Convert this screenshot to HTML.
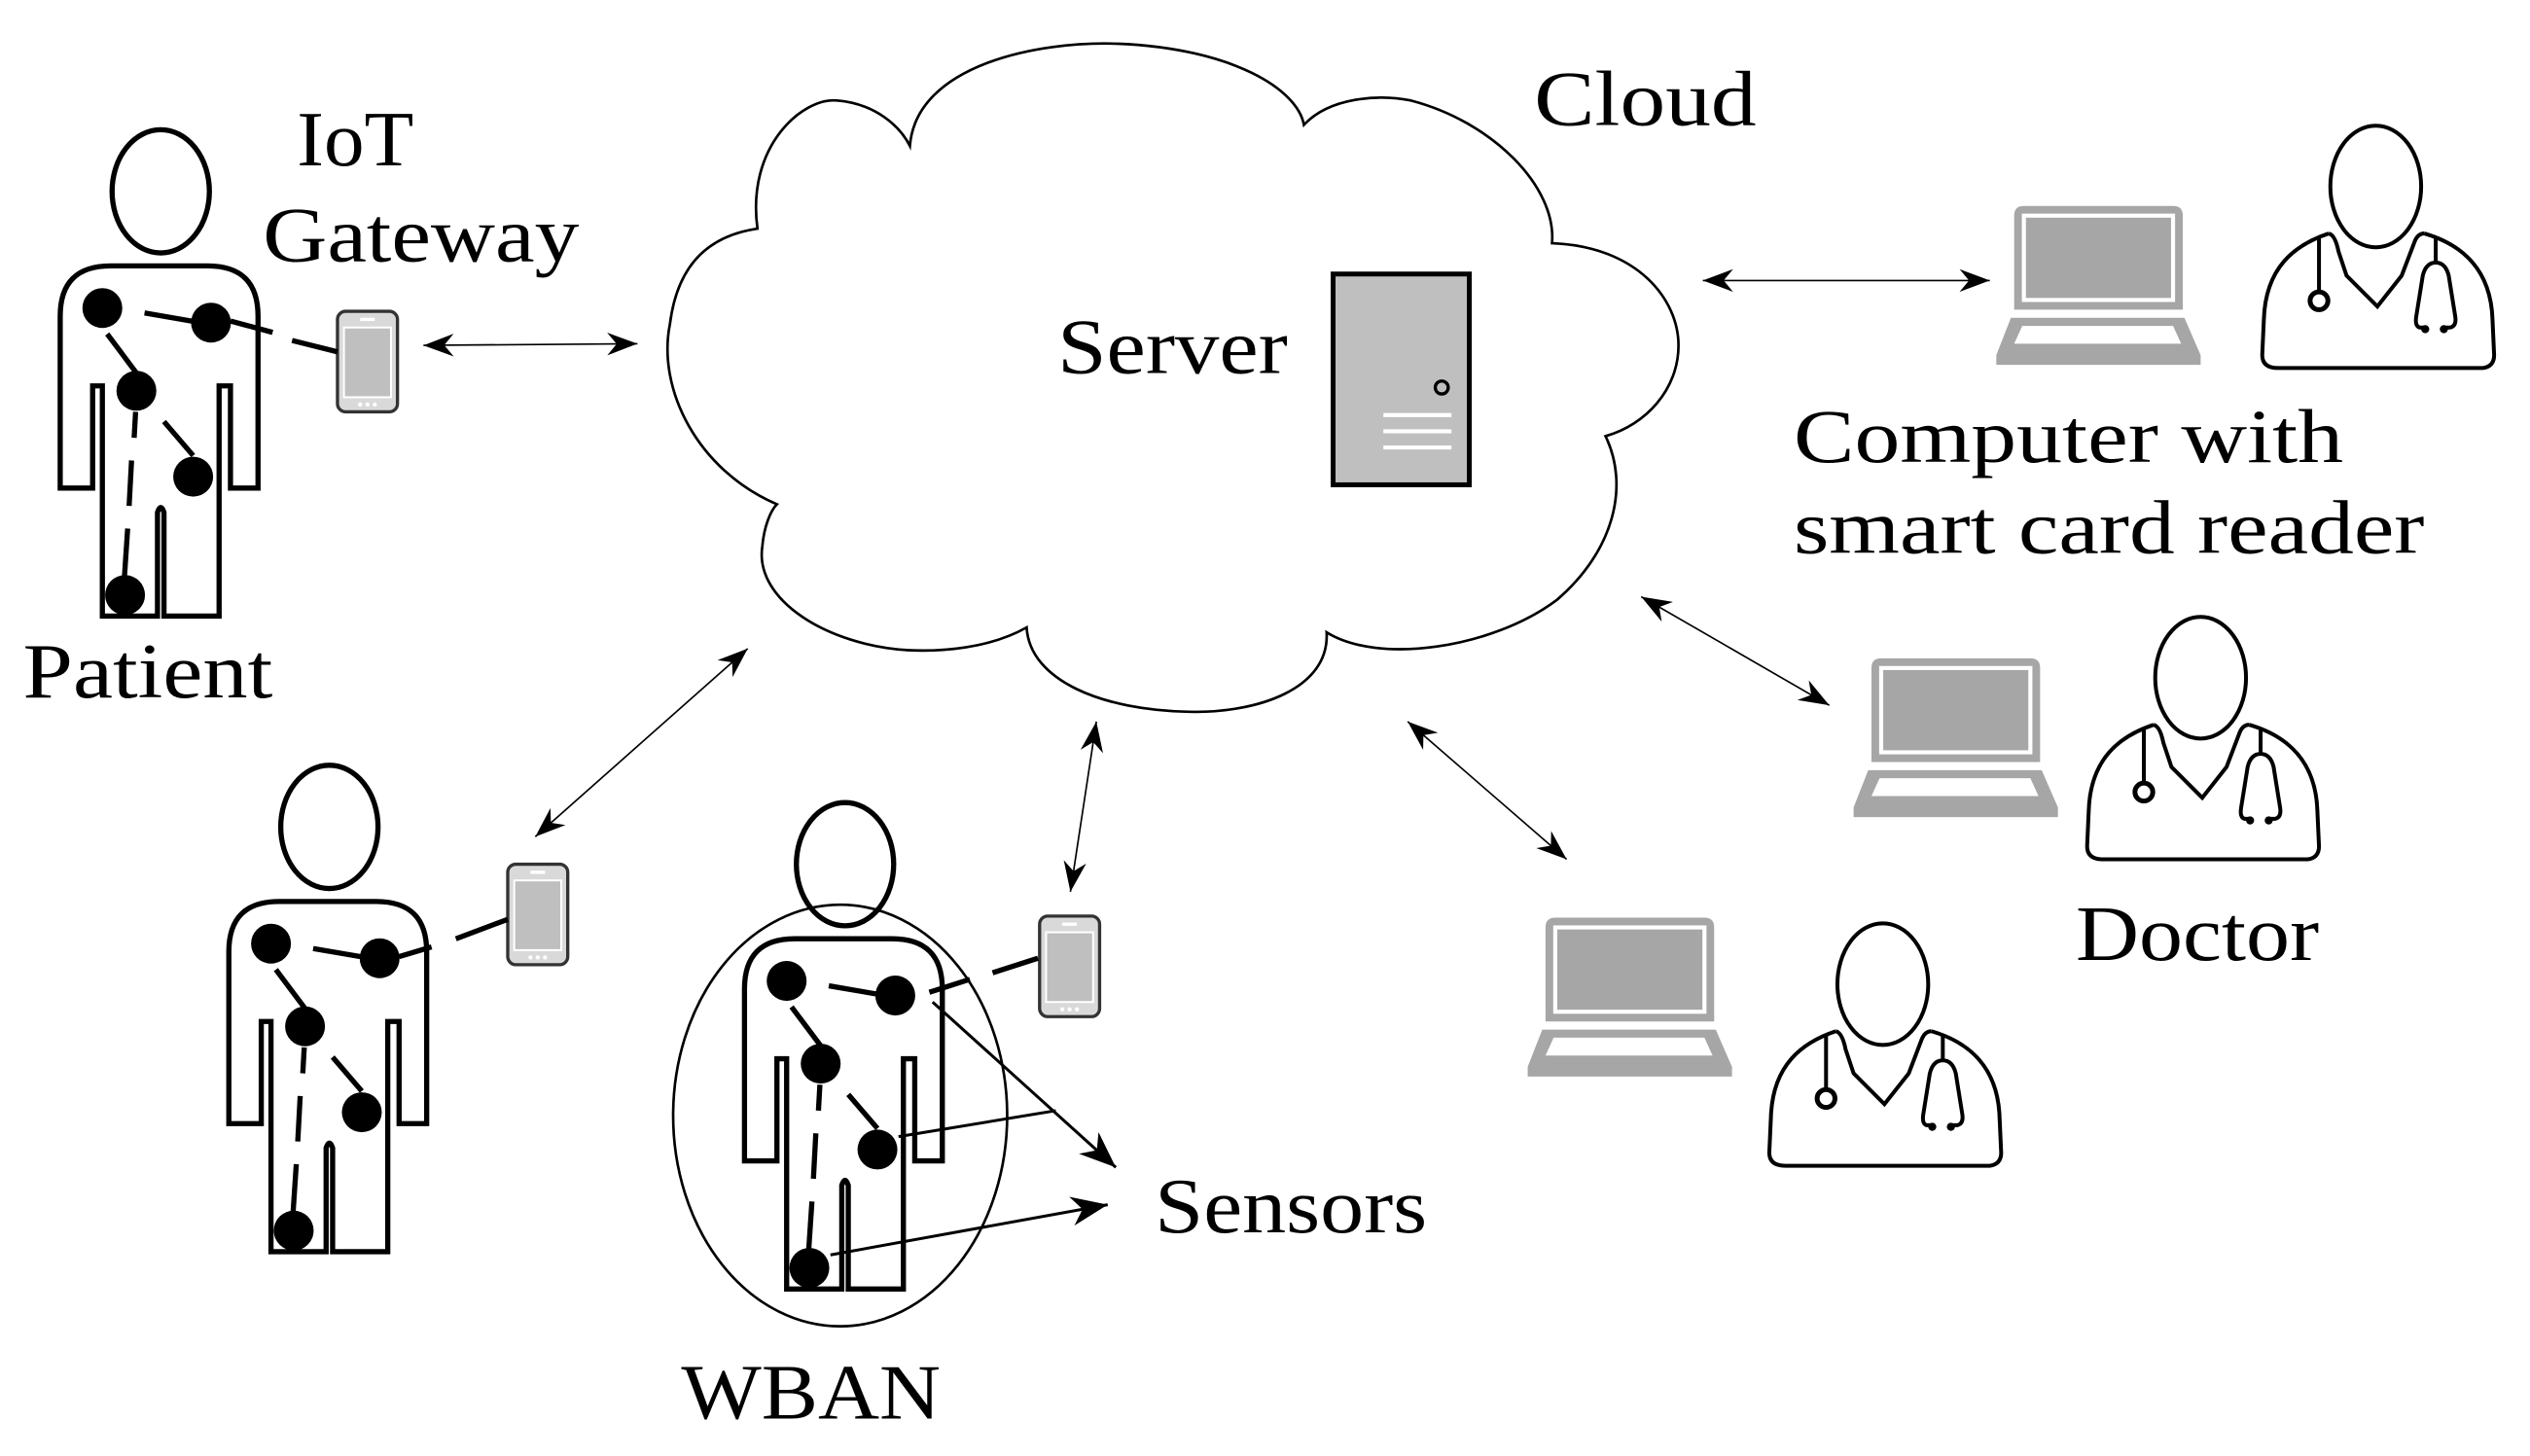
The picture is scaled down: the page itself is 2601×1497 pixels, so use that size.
<!DOCTYPE html>
<html><head><meta charset="utf-8"><style>
html,body{margin:0;padding:0;background:#fff}
svg{display:block}
text{font-family:"Liberation Serif",serif;fill:#000}
</style></head><body>
<svg width="2601" height="1497" viewBox="0 0 1560 898" xmlns="http://www.w3.org/2000/svg">
<defs>
<marker id="ah" markerUnits="userSpaceOnUse" markerWidth="20" markerHeight="14" refX="16" refY="6" orient="auto-start-reverse" viewBox="0 0 16 12">
<path d="M0,0 L16,6 L0,12 L5,6 Z" fill="#000"/>
</marker>
<marker id="ahb" markerUnits="userSpaceOnUse" markerWidth="24" markerHeight="18" refX="20" refY="8" orient="auto" viewBox="0 0 20 16">
<path d="M0,0 L20,8 L0,16 L6,8 Z" fill="#000"/>
</marker>
<g id="pat">
<ellipse cx="99" cy="118" rx="30" ry="38" fill="none" stroke="#000" stroke-width="3.2"/>
<path d="M63,380 L63,238 L57,238 L57,301 L37,301 L37,195 Q37,164 68,164 L128,164 Q159,164 159,195 L159,301 L142,301 L142,238 L135,238 L135,380 L101,380 L101,316 Q99,310 97,316 L97,380 Z" fill="none" stroke="#000" stroke-width="3.2"/>
<g stroke="#000" stroke-width="3.2">
<line x1="89" y1="193" x2="118" y2="198"/>
<line x1="66" y1="206" x2="84" y2="230"/>
<line x1="83.5" y1="254" x2="82.6" y2="270"/>
<line x1="81" y1="284" x2="79.5" y2="312"/>
<line x1="78.6" y1="326" x2="76" y2="365"/>
<line x1="101" y1="260" x2="119" y2="281"/>
</g>
<g fill="#000">
<circle cx="63" cy="190" r="12.3"/><circle cx="130" cy="199" r="12.3"/><circle cx="84" cy="241" r="12.3"/><circle cx="119" cy="294" r="12.3"/><circle cx="77" cy="367" r="12.3"/>
</g>
</g>
<g id="phone">
<rect x="0" y="0" width="37" height="62" rx="5" fill="#d9d9d9" stroke="#333" stroke-width="2"/>
<rect x="4" y="10" width="29" height="43" fill="#bfbfbf" stroke="#fff" stroke-width="1.2"/>
<rect x="14" y="4" width="9" height="2" fill="#fff"/>
<circle cx="14" cy="57.5" r="1.3" fill="#fff"/><circle cx="18.5" cy="57.5" r="1.3" fill="#fff"/><circle cx="23" cy="57.5" r="1.3" fill="#fff"/>
</g>
<g id="lap" fill="#a6a6a6">
<path d="M0,6 Q0,0 6,0 L98,0 Q104,0 104,6 L104,64 L0,64 Z"/>
<rect x="6" y="6" width="92" height="52" fill="none" stroke="#fff" stroke-width="2.5"/>
<path d="M-2,69 L105,69 L115,92 L115,98 L-11,98 L-11,92 Z"/>
<path d="M5,74 L98,74 L103,85 L0,85 Z" fill="#fff"/>
</g>
<g id="doc" fill="none" stroke="#000" stroke-width="2.4">
<ellipse cx="0" cy="0" rx="28" ry="37.5"/>
<path d="M-29,29 C-50,36 -68,50 -69,82 L-70,104 Q-70,112 -60,112 L66,112 Q73,111 73,104 L72,82 C71,52 54,36 30,29"/>
<path d="M-29,29 Q-25,30 -23,40 L-18,55 L1,74 L16,55 L24,34 Q26,29 30,29"/>
<line x1="-35" y1="32" x2="-35" y2="64"/>
<circle cx="-35" cy="70.5" r="5.5" stroke-width="3"/>
<line x1="37" y1="31" x2="37" y2="47"/>
<path d="M31,87 L27,87 Q24,86 25,80 L29,55 Q31,47 37,47 Q43,47 45,55 L49,80 Q50,86 46,87 L42,87"/>
<circle cx="30.5" cy="88" r="2.5" fill="#000" stroke="none"/><circle cx="42" cy="88" r="2.5" fill="#000" stroke="none"/>
</g>
</defs>

<!-- Cloud -->
<path d="M479,311 C430,290 405,240 413,200 C418,160 440,145 467,141 C460,90 495,60 516,62 C540,64 555,78 561,90 C565,40 640,25 690,27 C760,30 800,55 804,77 C820,60 850,58 870,62 C920,75 960,115 957,150 C1010,152 1035,185 1035,213 C1035,240 1015,262 990,269 C1005,300 995,340 960,370 C920,400 850,410 818,390 C820,425 775,440 733,439 C680,438 635,420 633,387 C610,400 580,402 560,401 C510,398 465,370 470,337 C471,325 475,315 479,311 Z" fill="none" stroke="#000" stroke-width="1.6"/>

<!-- Server -->
<rect x="822" y="169" width="84" height="130" fill="#bfbfbf" stroke="#000" stroke-width="3"/>
<circle cx="889" cy="239" r="4" fill="none" stroke="#000" stroke-width="2"/>
<g stroke="#fff" stroke-width="2.5"><line x1="853" y1="256" x2="895" y2="256"/><line x1="853" y1="266" x2="895" y2="266"/><line x1="853" y1="276" x2="895" y2="276"/></g>

<!-- Patients -->
<use href="#pat"/>
<use href="#pat" transform="translate(104,392)"/>
<use href="#pat" transform="translate(422,415)"/>

<!-- Phones -->
<use href="#phone" transform="translate(208,192)"/>
<use href="#phone" transform="translate(313,533)"/>
<use href="#phone" transform="translate(641,565)"/>

<!-- phone links -->
<g stroke="#000" stroke-width="3.2">
<line x1="142" y1="198" x2="168" y2="205"/><line x1="180" y1="210" x2="208" y2="217"/>
<line x1="246" y1="590" x2="266" y2="584"/><line x1="281" y1="579" x2="313" y2="567"/>
<line x1="573" y1="612" x2="598" y2="604"/><line x1="612" y1="600" x2="640" y2="591"/>
</g>

<!-- WBAN ellipse -->
<ellipse cx="518" cy="688" rx="103" ry="130" fill="none" stroke="#000" stroke-width="1.6"/>

<!-- Sensor arrows -->
<g stroke="#000" stroke-width="1.8" fill="none">
<line x1="575" y1="618" x2="688" y2="720" marker-end="url(#ahb)"/>
<line x1="554" y1="701" x2="651" y2="685"/>
<line x1="512" y1="774" x2="683" y2="743" marker-end="url(#ahb)"/>
</g>

<!-- Double arrows -->
<g stroke="#000" stroke-width="1" fill="none">
<line x1="261" y1="213" x2="393" y2="212" marker-start="url(#ah)" marker-end="url(#ah)"/>
<line x1="330" y1="516" x2="461" y2="400" marker-start="url(#ah)" marker-end="url(#ah)"/>
<line x1="660" y1="550" x2="676" y2="445" marker-start="url(#ah)" marker-end="url(#ah)"/>
<line x1="868" y1="445" x2="966" y2="530" marker-start="url(#ah)" marker-end="url(#ah)"/>
<line x1="1012" y1="368" x2="1128" y2="435" marker-start="url(#ah)" marker-end="url(#ah)"/>
<line x1="1050" y1="173" x2="1227" y2="173" marker-start="url(#ah)" marker-end="url(#ah)"/>
</g>

<!-- Laptops -->
<use href="#lap" transform="translate(1242,127)"/>
<use href="#lap" transform="translate(1154,406)"/>
<use href="#lap" transform="translate(953,566)"/>

<!-- Doctors -->
<use href="#doc" transform="translate(1465,115)"/>
<use href="#doc" transform="translate(1357,418)"/>
<use href="#doc" transform="translate(1161,607)"/>

<!-- Labels -->
<text x="183" y="102" font-size="48" textLength="72" lengthAdjust="spacingAndGlyphs">IoT</text>
<text x="162" y="161" font-size="48" textLength="195" lengthAdjust="spacingAndGlyphs">Gateway</text>
<text x="14" y="430" font-size="48" textLength="154" lengthAdjust="spacingAndGlyphs">Patient</text>
<text x="946" y="77" font-size="48" textLength="137" lengthAdjust="spacingAndGlyphs">Cloud</text>
<text x="652" y="230" font-size="48" textLength="142" lengthAdjust="spacingAndGlyphs">Server</text>
<text x="1106" y="285" font-size="47" textLength="339" lengthAdjust="spacingAndGlyphs">Computer with</text>
<text x="1106" y="341" font-size="47" textLength="389" lengthAdjust="spacingAndGlyphs">smart card reader</text>
<text x="1280" y="592" font-size="48" textLength="150" lengthAdjust="spacingAndGlyphs">Doctor</text>
<text x="712" y="760" font-size="48" textLength="168" lengthAdjust="spacingAndGlyphs">Sensors</text>
<text x="420" y="875" font-size="48" textLength="160" lengthAdjust="spacingAndGlyphs">WBAN</text>
</svg>
</body></html>
